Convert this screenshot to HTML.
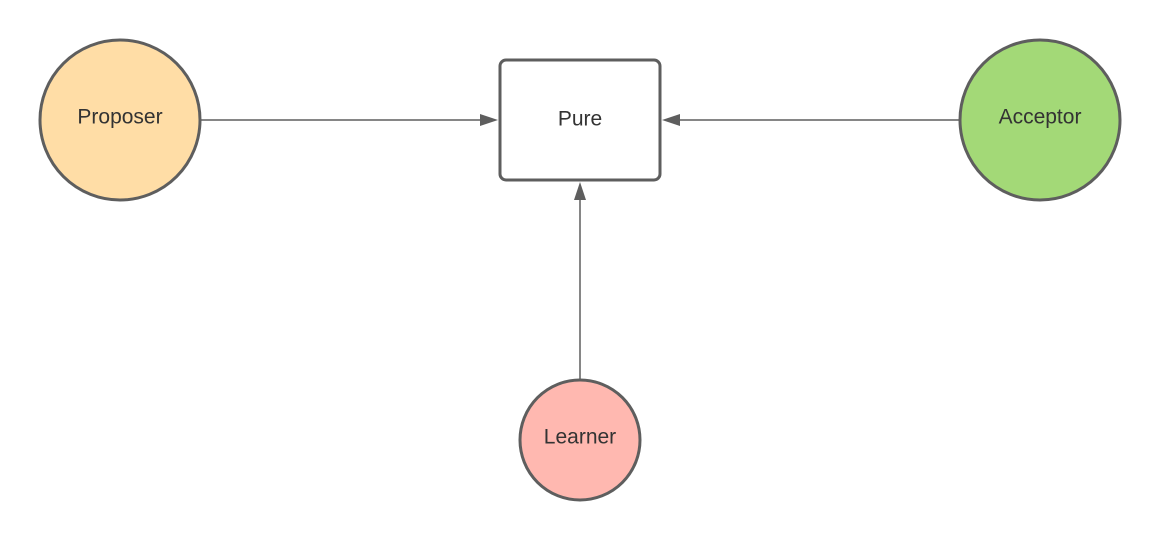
<!DOCTYPE html>
<html><head><meta charset="utf-8"><style>
html,body{margin:0;padding:0;background:#fff;}
svg{display:block;}
text{font-family:"Liberation Sans",sans-serif;font-size:21px;fill:#333;}
</style></head><body>
<svg width="1160" height="540" viewBox="0 0 1160 540" xmlns="http://www.w3.org/2000/svg">
<g stroke="#5e5e5e" stroke-width="3">
<circle cx="120" cy="120" r="80" fill="#ffdda6"/>
<circle cx="1040" cy="120" r="80" fill="#a3d977"/>
<circle cx="580" cy="440" r="60" fill="#ffb8b0"/>
<rect x="500" y="60" width="160" height="120" rx="6" fill="#fff"/>
</g>
<g stroke="#5e5e5e" stroke-width="1.5" fill="none">
<line x1="201" y1="120" x2="484" y2="120"/>
<line x1="959" y1="120" x2="676" y2="120"/>
<line x1="580" y1="379" x2="580" y2="196"/>
</g>
<g fill="#5e5e5e">
<polygon points="498,120 480,114 480,126"/>
<polygon points="662,120 680,114 680,126"/>
<polygon points="580,182 574,200 586,200"/>
</g>
<text x="120" y="118" text-anchor="middle" dominant-baseline="middle">Proposer</text>
<text x="1040" y="118" text-anchor="middle" dominant-baseline="middle">Acceptor</text>
<text x="580" y="438" text-anchor="middle" dominant-baseline="middle">Learner</text>
<text x="580" y="120" text-anchor="middle" dominant-baseline="middle">Pure</text>
</svg>
</body></html>
